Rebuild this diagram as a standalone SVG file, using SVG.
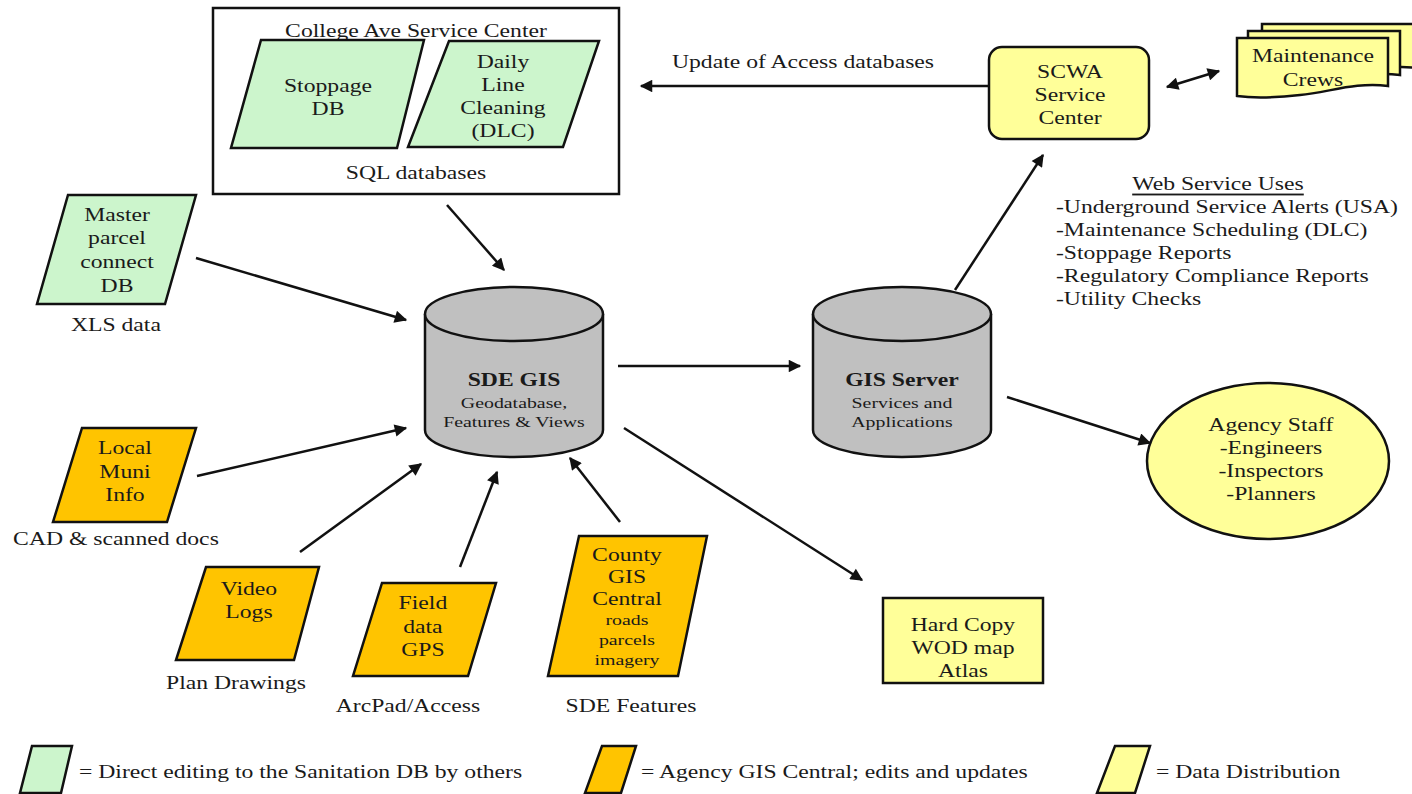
<svg xmlns="http://www.w3.org/2000/svg" width="1412" height="794" viewBox="0 0 1412 794">
<style>
text{font-family:"Liberation Serif","Times New Roman",serif;fill:#1a1a1a;dominant-baseline:central;text-anchor:middle;font-size:18.5px;transform-box:fill-box;transform-origin:50% 50%;transform:scaleX(1.28)}
.l{text-anchor:start;transform-origin:0% 50%}
.s{font-size:15.5px}
.b{font-weight:bold}
.green{fill:#CCF5CC;stroke:#111;stroke-width:2.5}
.orange{fill:#FFC400;stroke:#111;stroke-width:2.5}
.yellow{fill:#FFFF99;stroke:#111;stroke-width:2.5}
.cyl{fill:#C0C0C0;stroke:#111;stroke-width:2.5}
.box{fill:#fff;stroke:#111;stroke-width:2.5}
.conn line{stroke:#111;stroke-width:2.5;fill:none}
</style>
<defs>
<marker id="ah" viewBox="0 0 10 10" refX="9" refY="5" markerWidth="6" markerHeight="5" orient="auto-start-reverse" markerUnits="strokeWidth">
<path d="M0,0 L10,5 L0,10 z" fill="#111"/>
</marker>
</defs>
<rect width="1412" height="794" fill="#fff"/>

<g id="college">
<rect class="box" x="213" y="8" width="406" height="186"/>
<text x="416" y="31">College Ave Service Center</text>
<text x="416" y="173">SQL databases</text>
</g>
<g id="stoppage">
<polygon class="green" points="261,40 424,40 397,148 231,148"/>
<text x="328" y="86">Stoppage</text>
<text x="328" y="109">DB</text>
</g>
<g id="dlc">
<polygon class="green" points="449,41 599,41 563,147 408,147"/>
<text x="503" y="62">Daily</text>
<text x="503" y="85">Line</text>
<text x="503" y="108">Cleaning</text>
<text x="503" y="131">(DLC)</text>
</g>

<g id="scwa">
<rect class="yellow" x="989" y="47" width="160" height="92" rx="13"/>
<text x="1070" y="72">SCWA</text>
<text x="1070" y="95">Service</text>
<text x="1070" y="118">Center</text>
</g>
<g id="crews">
<path class="yellow" d="M1262,24 H1420 V68 C1380,64 1350,74 1320,78 C1295,81 1275,81 1262,79 Z"/>
<path class="yellow" d="M1248,31 H1400 V75 C1365,71 1335,81 1305,85 C1280,88 1262,88 1248,86 Z"/>
<path class="yellow" d="M1237,38 H1388 V86 C1355,82 1330,92 1300,95 C1272,98 1252,98 1237,96 Z"/>
<text x="1313" y="56">Maintenance</text>
<text x="1313" y="80">Crews</text>
</g>

<g id="webuses">
<text x="1218" y="184" style="text-decoration:underline">Web Service Uses</text>
<text class="l" x="1056" y="207">-Underground Service Alerts (USA)</text>
<text class="l" x="1056" y="230">-Maintenance Scheduling (DLC)</text>
<text class="l" x="1056" y="253">-Stoppage Reports</text>
<text class="l" x="1056" y="276">-Regulatory Compliance Reports</text>
<text class="l" x="1056" y="299">-Utility Checks</text>
</g>

<g id="master">
<polygon class="green" points="68,195 196,195 165,304 37,304"/>
<text x="117" y="215">Master</text>
<text x="117" y="238">parcel</text>
<text x="117" y="262">connect</text>
<text x="117" y="286">DB</text>
<text x="116" y="325">XLS data</text>
</g>

<g id="sde">
<path class="cyl" d="M425,314 V430 A89,27 0 0 0 603,430 V314"/>
<ellipse class="cyl" cx="514" cy="314" rx="89" ry="27"/>
<text class="b" x="514" y="380">SDE GIS</text>
<text class="s" x="514" y="403">Geodatabase,</text>
<text class="s" x="514" y="422">Features &amp; Views</text>
</g>

<g id="gisserver">
<path class="cyl" d="M813,314 V430 A89,27 0 0 0 991,430 V314"/>
<ellipse class="cyl" cx="902" cy="314" rx="89" ry="27"/>
<text class="b" x="902" y="380">GIS Server</text>
<text class="s" x="902" y="403">Services and</text>
<text class="s" x="902" y="422">Applications</text>
</g>

<g id="agency">
<ellipse class="yellow" cx="1268" cy="461" rx="121" ry="78"/>
<text x="1271" y="425">Agency Staff</text>
<text x="1271" y="448">-Engineers</text>
<text x="1271" y="471">-Inspectors</text>
<text x="1271" y="494">-Planners</text>
</g>

<g id="local">
<polygon class="orange" points="82,428 196,428 167,522 53,522"/>
<text x="125" y="448">Local</text>
<text x="125" y="472">Muni</text>
<text x="125" y="495">Info</text>
<text x="116" y="539">CAD &amp; scanned docs</text>
</g>

<g id="video">
<polygon class="orange" points="206,567 319,567 294,660 176,660"/>
<text x="249" y="589">Video</text>
<text x="249" y="612">Logs</text>
<text x="236" y="683">Plan Drawings</text>
</g>

<g id="field">
<polygon class="orange" points="382,583 496,583 468,676 353,676"/>
<text x="423" y="603">Field</text>
<text x="423" y="627">data</text>
<text x="423" y="650">GPS</text>
<text x="408" y="706">ArcPad/Access</text>
</g>

<g id="county">
<polygon class="orange" points="579,536 707,536 678,676 548,676"/>
<text x="627" y="555">County</text>
<text x="627" y="577">GIS</text>
<text x="627" y="599">Central</text>
<text class="s" x="627" y="620">roads</text>
<text class="s" x="627" y="640">parcels</text>
<text class="s" x="627" y="660">imagery</text>
<text x="631" y="706">SDE Features</text>
</g>

<g id="hardcopy">
<rect class="yellow" x="883" y="598" width="160" height="85"/>
<text x="963" y="625">Hard Copy</text>
<text x="963" y="648">WOD map</text>
<text x="963" y="671">Atlas</text>
</g>

<g id="connectors" class="conn">
<line x1="989" y1="86" x2="641" y2="86" marker-end="url(#ah)"/>
<line x1="447" y1="205" x2="504" y2="270" marker-end="url(#ah)"/>
<line x1="196" y1="258" x2="406" y2="320" marker-end="url(#ah)"/>
<line x1="197" y1="476" x2="406" y2="428" marker-end="url(#ah)"/>
<line x1="300" y1="552" x2="421" y2="464" marker-end="url(#ah)"/>
<line x1="460" y1="567" x2="497" y2="472" marker-end="url(#ah)"/>
<line x1="620" y1="522" x2="570" y2="458" marker-end="url(#ah)"/>
<line x1="618" y1="366" x2="800" y2="366" marker-end="url(#ah)"/>
<line x1="624" y1="428" x2="862" y2="580" marker-end="url(#ah)"/>
<line x1="955" y1="290" x2="1043" y2="155" marker-end="url(#ah)"/>
<line x1="1007" y1="397" x2="1150" y2="443" marker-end="url(#ah)"/>
<line x1="1167" y1="87" x2="1219" y2="71" marker-start="url(#ah)" marker-end="url(#ah)"/>
</g>
<text x="803" y="62">Update of Access databases</text>

<g id="legend">
<polygon class="green" points="32,746 72,746 61,793 20,793"/>
<text class="l" x="79" y="772">= Direct editing to the Sanitation DB by others</text>
<polygon class="orange" points="602,746 636,746 621,793 585,793"/>
<text class="l" x="641" y="772">= Agency GIS Central; edits and updates</text>
<polygon class="yellow" points="1115,746 1150,746 1135,793 1097,793"/>
<text class="l" x="1156" y="772">= Data Distribution</text>
</g>
</svg>
